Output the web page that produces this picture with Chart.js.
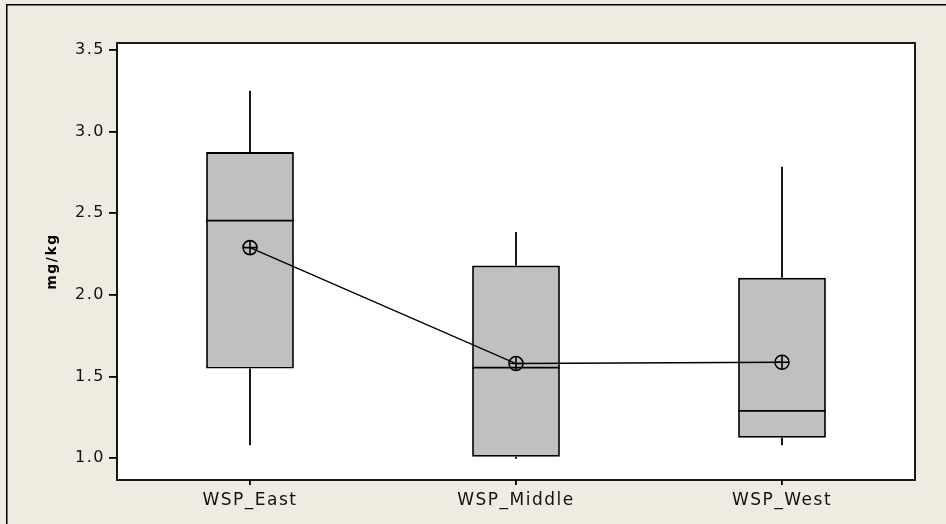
<!DOCTYPE html>
<html>
<head>
<meta charset="utf-8">
<script src="https://cdn.jsdelivr.net/npm/chart.js@4.4.1/dist/chart.umd.min.js"></script>
<style>
  html, body { margin: 0; padding: 0; background: #EEEBE1; overflow: hidden; }
  #wrap { position: relative; width: 946px; height: 524px; }
  #wrap canvas { position: absolute; left: 0; top: 0; }
</style>
</head>
<body>
<div id="wrap"><canvas id="c" width="946" height="524"></canvas></div>
<script>
// Sites along the WSP transect and their box-plot statistics (mg/kg)
const categories = ['WSP_East', 'WSP_Middle', 'WSP_West'];
const q1 = [1.55, 1.01, 1.125];
const q3 = [2.875, 2.18, 2.105];
const medians = [2.455, 1.555, 1.29];
const whiskerLow = [1.08, 0.997, 1.08];
const whiskerHigh = [3.25, 2.385, 2.785];
const means = [2.29, 1.58, 1.588];
const yTicks = [1.0, 1.5, 2.0, 2.5, 3.0, 3.5];

const BG = '#EEEBE1';
const FONT = 'DejaVu Sans';

// Background, outer frame (top and left edges only) and letter spacing
const framePlugin = {
  id: 'frame',
  beforeUpdate(chart) { chart.ctx.letterSpacing = '1.5px'; },
  beforeDraw(chart) {
    const ctx = chart.ctx;
    ctx.save();
    ctx.fillStyle = BG;
    ctx.fillRect(0, 0, chart.width, chart.height);
    ctx.fillStyle = '#000';
    ctx.fillRect(6, 4, 1.5, chart.height - 4);
    ctx.fillRect(6, 4, chart.width - 6, 1.5);
    ctx.fillStyle = '#fff';
    const a = chart.chartArea;
    ctx.fillRect(a.left, a.top, a.right - a.left, a.bottom - a.top);
    ctx.restore();
    ctx.letterSpacing = '1.5px';
  },
  afterDraw(chart) {
    const ctx = chart.ctx;
    const a = chart.chartArea;
    ctx.save();
    ctx.strokeStyle = '#000';
    ctx.lineWidth = 1.8;
    ctx.strokeRect(a.left, a.top, a.right - a.left, a.bottom - a.top);
    ctx.restore();
  }
};

// Whiskers behind the boxes, median lines on top of them
const boxPlugin = {
  id: 'boxStats',
  beforeDatasetsDraw(chart) {
    const ctx = chart.ctx, xs = chart.scales.x, ys = chart.scales.y;
    ctx.save();
    ctx.strokeStyle = '#000';
    ctx.lineWidth = 1.8;
    categories.forEach((c, i) => {
      const x = xs.getPixelForValue(i);
      ctx.beginPath();
      ctx.moveTo(x, ys.getPixelForValue(q3[i]));
      ctx.lineTo(x, ys.getPixelForValue(whiskerHigh[i]));
      ctx.moveTo(x, ys.getPixelForValue(q1[i]));
      ctx.lineTo(x, ys.getPixelForValue(whiskerLow[i]));
      ctx.stroke();
    });
    ctx.restore();
  },
  afterDatasetDraw(chart, args) {
    if (args.index !== 0) return;
    const ctx = chart.ctx, ys = chart.scales.y;
    const meta = chart.getDatasetMeta(0);
    ctx.save();
    ctx.strokeStyle = '#000';
    ctx.lineWidth = 1.6;
    meta.data.forEach((bar, i) => {
      const y = ys.getPixelForValue(medians[i]);
      ctx.beginPath();
      ctx.moveTo(bar.x - bar.width / 2, y);
      ctx.lineTo(bar.x + bar.width / 2, y);
      ctx.stroke();
    });
    ctx.restore();
  }
};

new Chart(document.getElementById('c'), {
  type: 'bar',
  data: {
    labels: categories,
    datasets: [
      {
        type: 'bar',
        label: 'IQR',
        data: q1.map((v, i) => [v, q3[i]]),
        backgroundColor: '#C0C0C0',
        borderColor: '#000',
        borderWidth: 1.8,
        borderSkipped: false,
        categoryPercentage: 1,
        barPercentage: 0.33,
        order: 2
      },
      {
        type: 'line',
        label: 'Mean',
        data: means,
        borderColor: '#000',
        borderWidth: 1.5,
        pointStyle: 'circle',
        pointRadius: 7,
        pointBorderWidth: 1.6,
        pointBackgroundColor: 'rgba(0,0,0,0)',
        pointBorderColor: '#000',
        fill: false,
        order: 1
      },
      {
        type: 'line',
        label: 'Mean cross',
        data: means,
        showLine: false,
        pointStyle: 'cross',
        pointRadius: 7,
        pointBorderWidth: 1.6,
        pointBorderColor: '#000',
        order: 0
      }
    ]
  },
  options: {
    responsive: false,
    animation: false,
    layout: { padding: { left: 0, top: 43, right: 31, bottom: 0 } },
    plugins: { legend: { display: false }, tooltip: { enabled: false } },
    scales: {
      x: {
        type: 'category',
        offset: true,
        grid: { display: true, offset: false, drawOnChartArea: false, drawTicks: true, tickLength: 5, color: '#000', lineWidth: 1.8 },
        border: { display: false },
        ticks: { color: '#111', font: { family: FONT, size: 17 }, padding: 5, maxRotation: 0 },
        afterFit(s) { s.height = 44; }
      },
      y: {
        type: 'linear',
        min: 0.867,
        max: 3.543,
        grid: { display: true, drawOnChartArea: false, drawTicks: true, tickLength: 8, color: '#000', lineWidth: 1.8 },
        border: { display: false },
        afterBuildTicks(s) { s.ticks = yTicks.map(v => ({ value: v })); },
        ticks: {
          color: '#111',
          font: { family: FONT, size: 16 },
          padding: 4,
          callback: v => Number(v).toFixed(1)
        },
        title: {
          display: true,
          text: 'mg/kg',
          color: '#000',
          font: { family: FONT, size: 14, weight: 'bold' },
          padding: { top: 44, bottom: 0 }
        },
        afterFit(s) { s.width = 117; }
      }
    }
  },
  plugins: [framePlugin, boxPlugin]
});
</script>
</body>
</html>
